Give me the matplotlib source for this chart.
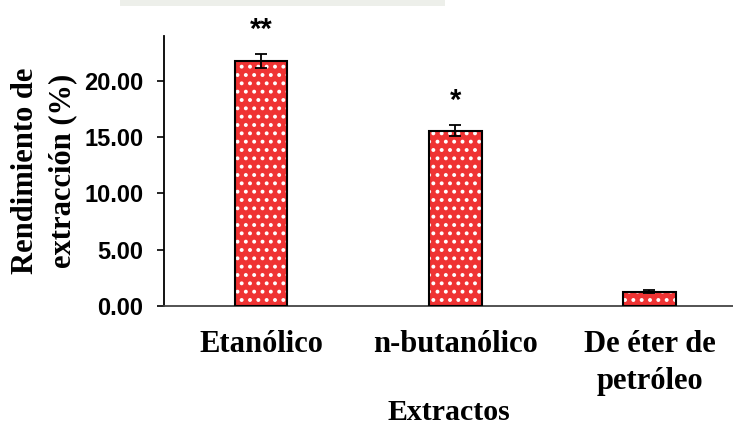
import matplotlib.pyplot as plt
import numpy as np
from matplotlib.patches import Rectangle

# data
extractos = ['Etanólico', 'n-butanólico', 'De éter de\npetróleo']
rendimiento = [21.76, 15.57, 1.27]
error = [0.63, 0.48, 0.12]
signif = ['**', '*', '']

bar_red = '#EF3333'
x = np.arange(len(extractos))
bar_width = 0.27

plt.rcParams['hatch.linewidth'] = 1.6

fig = plt.figure(figsize=(7.33, 4.32), dpi=100)
ax = fig.add_axes([0.2237, 0.2917, 1.0 - 0.2237, 0.625])

# faint watermark strip at the very top of the original picture
fig.patches.append(Rectangle((120 / 733, 1 - 6 / 432), 325 / 733, 6 / 432,
                             transform=fig.transFigure, color='#EDEFEA',
                             lw=0, zorder=0))

# red fill with white dot hatch, then black outline on top
ax.bar(x, rendimiento, width=bar_width, color=bar_red, edgecolor='white',
       hatch='..', linewidth=0, zorder=2)
ax.bar(x, rendimiento, width=bar_width, fill=False, edgecolor='black',
       linewidth=1.5, zorder=3)
ax.errorbar(x, rendimiento, yerr=error, fmt='none', ecolor='black',
            elinewidth=1.3, capsize=4.5, capthick=1.3, zorder=4)

for xi, v, e, s in zip(x, rendimiento, error, signif):
    if s:
        ax.text(xi, v + e + 0.9, s, ha='center', va='bottom', fontsize=21,
                fontweight='bold', family='Liberation Sans', clip_on=False)

ax.set_xlim(-0.5, 2.43)
ax.set_ylim(0, 24)
ax.set_yticks([0, 5, 10, 15, 20])
ax.set_yticklabels([f'{t:.2f}' for t in [0, 5, 10, 15, 20]],
                   family='Liberation Sans', fontweight='bold', fontsize=17)
ax.set_xticks(x)
ax.set_xticklabels(extractos, family='Liberation Serif', fontweight='bold',
                   fontsize=22, linespacing=1.4)
ax.tick_params(axis='x', length=0, pad=17)
ax.tick_params(axis='y', length=5, width=1.2, pad=10)

ax.set_xlabel('Extractos', family='Liberation Serif', fontweight='bold',
              fontsize=21.5, labelpad=2)
ax.set_ylabel('Rendimiento de\nextracción (%)', family='Liberation Serif',
              fontweight='bold', fontsize=22, linespacing=1.38, labelpad=5)

ax.spines['top'].set_visible(False)
ax.spines['right'].set_visible(False)
ax.spines['left'].set_linewidth(1.3)
ax.spines['bottom'].set_linewidth(1.3)
ax.spines['bottom'].set_color('#444444')

fig.savefig('out.png', dpi=100)
